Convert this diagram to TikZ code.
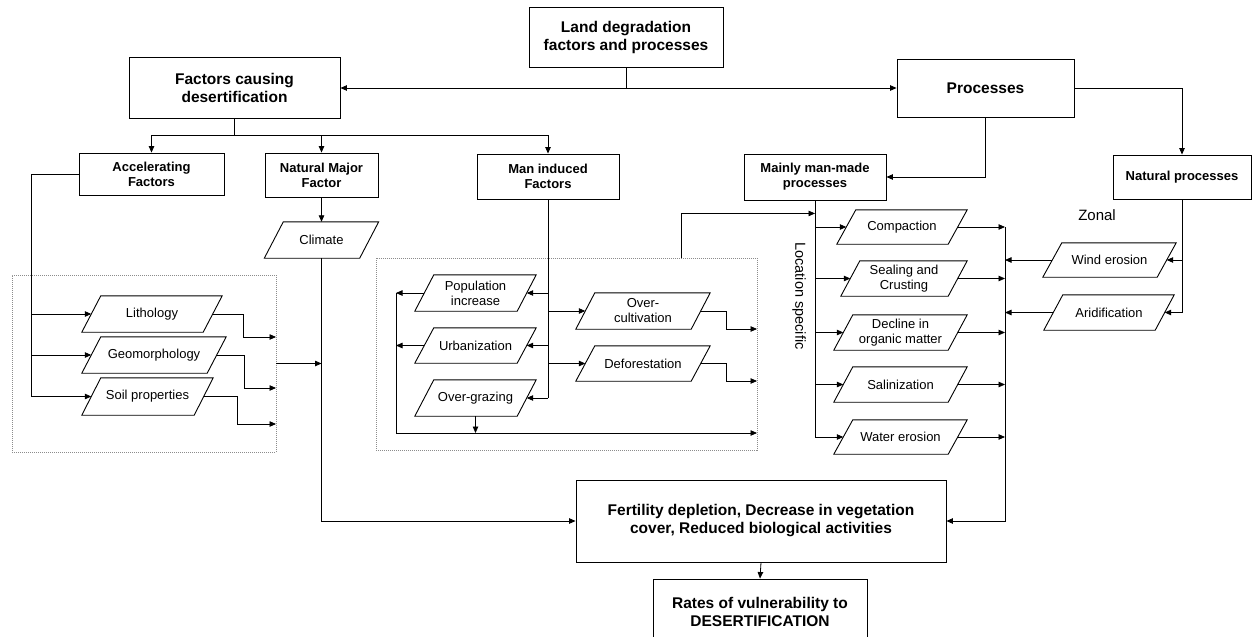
\documentclass[tikz,border=0pt]{standalone}
\usepackage{fontspec}
\setmainfont{Liberation Sans}
\usetikzlibrary{arrows.meta,calc}
\begin{document}
\begin{tikzpicture}[x=1pt,y=-1pt,
  box/.style={draw, line width=0.9pt, rectangle, fill=white, inner sep=0pt, align=center, font=\bfseries\fontsize{15.5}{18}\selectfont},
  sbox/.style={box, font=\bfseries\fontsize{13}{15}\selectfont},
  para/.style={rectangle, inner sep=0pt, align=center, font=\fontsize{13}{15}\selectfont},
  paraline/.style={line width=0.9pt, line join=miter},
  grp/.style={draw=black!45, line width=0.6pt, dash pattern=on 1pt off 1pt, rectangle, inner sep=0pt},
  arr/.style={-{Triangle[length=6.5pt,width=5.5pt]}, line width=0.8pt},
  ln/.style={line width=0.8pt}]
\useasboundingbox (0,0) rectangle (1253,637);

% group frames
\node[grp, minimum width=264pt, minimum height=177pt] (lbox) at (144,363.5) {};
\node[grp, minimum width=381pt, minimum height=192pt] (mbox) at (566.5,354) {};

% boxes
\node[box, minimum width=194pt, minimum height=60pt] (top) at (626,37) {Land degradation\\factors and processes};
\node[box, minimum width=211pt, minimum height=61pt] (fac) at (234.5,88) {Factors causing\\desertification};
\node[box, minimum width=177pt, minimum height=58pt] (proc) at (985.5,88) {Processes};
\node[sbox, minimum width=145pt, minimum height=42pt] (acc) at (151.5,174) {Accelerating\\Factors};
\node[sbox, minimum width=113pt, minimum height=44pt] (nmf) at (321.5,175) {Natural Major\\Factor};
\node[sbox, minimum width=142pt, minimum height=45pt] (man) at (548,176.5) {Man induced\\Factors};
\node[sbox, minimum width=142pt, minimum height=46pt] (mmp) at (815,177) {Mainly man-made\\processes};
\node[sbox, minimum width=138pt, minimum height=44pt] (natp) at (1182,177) {Natural processes};
\node[box, minimum width=370pt, minimum height=82pt] (fert) at (761,521) {Fertility depletion, Decrease in vegetation\\cover, Reduced biological activities};
\node[box, minimum width=214pt, minimum height=66pt] (rates) at (760,612) {Rates of vulnerability to\\DESERTIFICATION};

% parallelograms (node = middle band; outline drawn below, slant offset 19)
\node[para, minimum width=95pt, minimum height=36pt] (clim) at (321.5,240) {Climate};
\node[para, minimum width=121pt, minimum height=36pt] (lith) at (152,314) {Lithology};
\node[para, minimum width=125pt, minimum height=36pt] (geo) at (154,355) {Geomorphology};
\node[para, minimum width=112pt, minimum height=37pt] (soil) at (147.5,396.5) {Soil properties};
\node[para, minimum width=102pt, minimum height=36pt] (pop) at (475.5,293) {Population\\increase};
\node[para, minimum width=102pt, minimum height=35pt] (urb) at (475.5,345.5) {Urbanization};
\node[para, minimum width=102pt, minimum height=36pt] (ograz) at (475.5,398) {Over-grazing};
\node[para, minimum width=115pt, minimum height=36pt] (ocult) at (643,311) {Over-\\cultivation};
\node[para, minimum width=115pt, minimum height=35pt] (defor) at (643,363.5) {Deforestation};
\node[para, minimum width=111pt, minimum height=34pt] (comp) at (902,227) {Compaction};
\node[para, minimum width=107pt, minimum height=35pt] (seal) at (904,278.5) {Sealing and\\Crusting};
\node[para, minimum width=114pt, minimum height=35pt] (decl) at (900.5,332.5) {Decline in\\organic matter};
\node[para, minimum width=114pt, minimum height=35pt] (sal) at (900.5,384.5) {Salinization};
\node[para, minimum width=114pt, minimum height=34pt] (water) at (900.5,437) {Water erosion};
\node[para, minimum width=114pt, minimum height=34pt] (wind) at (1109.5,260) {Wind erosion};
\node[para, minimum width=111pt, minimum height=35pt] (arid) at (1109,312.5) {Aridification};
\foreach \n in {clim,lith,geo,soil,pop,urb,ograz,ocult,defor,comp,seal,decl,sal,water,wind,arid}
  \draw[paraline] ([xshift=-9.5pt]\n.south west) -- ([xshift=-9.5pt]\n.south east)
     -- ([xshift=9.5pt]\n.north east) -- ([xshift=9.5pt]\n.north west) -- cycle;

% labels
\node[font=\fontsize{15}{18}\selectfont] (zonal) at (1097,215) {Zonal};
\node[rotate=-90, font=\fontsize{14.5}{17}\selectfont] (loc) at (799,296) {Location specific};

% top level
\draw[arr] (top.south) |- (fac.east);
\draw[arr] (top.south) |- (proc.west);
\coordinate (j1) at (234.5,135);
\draw[ln] (fac.south) -- (j1);
\draw[arr] (j1) -| (acc.north);
\draw[arr] (j1) -| (nmf.north);
\draw[arr] (j1) -| (man.north);
\draw[arr] (proc.east) -| (natp.north);
\draw[arr] (proc.south) |- (mmp.east);

% climate
\draw[arr] (nmf.south) -- (nmf.south |- clim.north);
\draw[arr] (clim.south -| nmf.south) |- (fert.west);

% accelerating factors
\coordinate (al) at (31,174);
\draw[ln] (acc.west) -- (al);
\draw[arr] (al) |- (lith.west);
\draw[arr] (al) |- (geo.west);
\draw[arr] (al) |- (soil.west);
\coordinate (l1) at (276,337);
\coordinate (l2) at (276,388);
\coordinate (l3) at (276,424);
\draw[arr] (lith.east) -- ++(31,0) |- (l1);
\draw[arr] (geo.east) -- ++(28,0) |- (l2);
\draw[arr] (soil.east) -- ++(34,0) |- (l3);
\draw[arr] (lbox.east) -- (lbox.east -| nmf.south);

% man induced
\draw[ln] (man.south) -- (man.south |- ograz.east);
\draw[arr] (man.south |- pop.east) -- (pop.east);
\draw[arr] (man.south |- urb.east) -- (urb.east);
\draw[arr] (man.south |- ograz.east) -- (ograz.east);
\draw[arr] (man.south |- ocult.west) -- (ocult.west);
\draw[arr] (man.south |- defor.west) -- (defor.west);
\coordinate (mlt) at (396,293);
\coordinate (mlb) at (396,433);
\coordinate (mre) at (757,433);
\draw[arr] (pop.west) -- (mlt);
\draw[arr] (urb.west) -- (urb.west -| mlt);
\draw[ln] (mlt) -- (mlb);
\draw[arr] (mlb) -- (mre);
\draw[arr] (ograz.south) -- (ograz.south |- mlb);
\coordinate (m1) at (757,329);
\coordinate (m2) at (757,381);
\draw[arr] (ocult.east) -- ++(26,0) |- (m1);
\draw[arr] (defor.east) -- ++(26,0) |- (m2);
\coordinate (mt) at (681,258);
\draw[arr] (mt) |- ($(mmp.south)+(0,13)$);

% mainly man-made processes
\draw[ln] (mmp.south) -- (mmp.south |- water.west);
\draw[arr] (mmp.south |- comp.west) -- (comp.west);
\draw[arr] (mmp.south |- seal.west) -- (seal.west);
\draw[arr] (mmp.south |- decl.west) -- (decl.west);
\draw[arr] (mmp.south |- sal.west) -- (sal.west);
\draw[arr] (mmp.south |- water.west) -- (water.west);
\coordinate (rv) at (1005,227);
\draw[arr] (rv) |- (fert.east);
\draw[arr] (comp.east) -- (comp.east -| rv);
\draw[arr] (seal.east) -- (seal.east -| rv);
\draw[arr] (decl.east) -- (decl.east -| rv);
\draw[arr] (sal.east) -- (sal.east -| rv);
\draw[arr] (water.east) -- (water.east -| rv);

% natural processes
\draw[ln] (natp.south) -- (natp.south |- arid.east);
\draw[arr] (natp.south |- wind.east) -- (wind.east);
\draw[arr] (natp.south |- arid.east) -- (arid.east);
\draw[arr] (wind.west) -- (wind.west -| rv);
\draw[arr] (arid.west) -- (arid.west -| rv);

% result
\draw[arr] (fert.south) -- (rates.north);
\end{tikzpicture}
\end{document}
